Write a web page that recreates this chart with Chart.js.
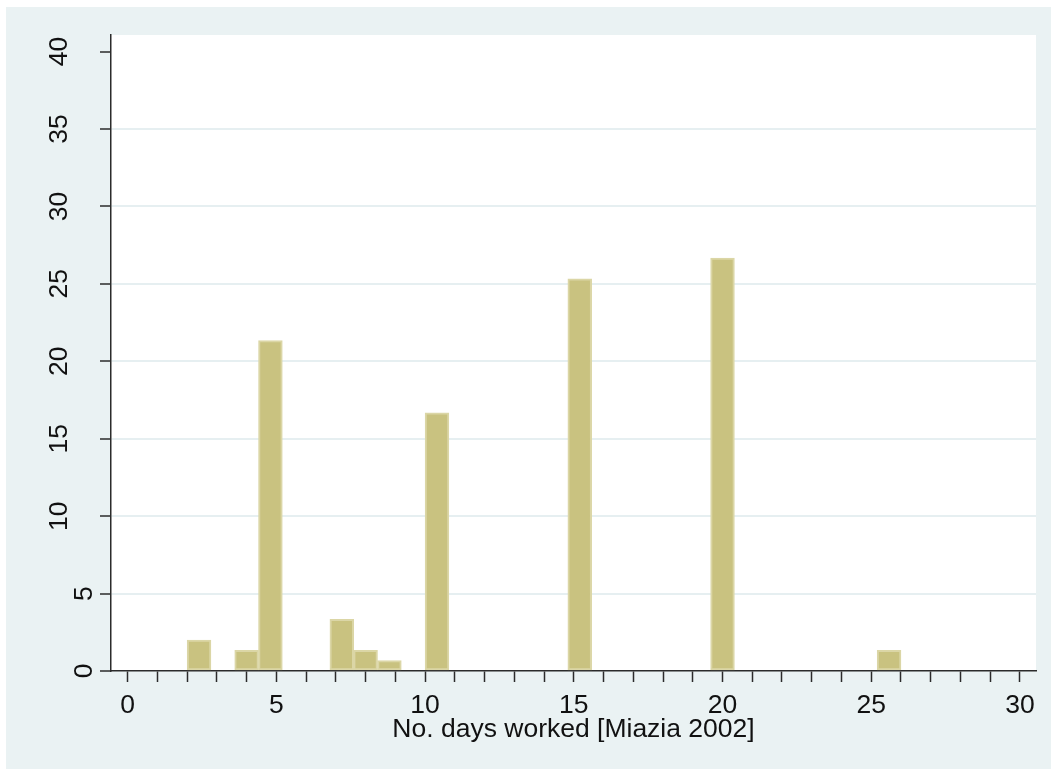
<!DOCTYPE html>
<html>
<head>
<meta charset="utf-8">
<title>No. days worked</title>
<script src="https://cdn.jsdelivr.net/npm/chart.js@4/dist/chart.umd.min.js"></script>
<style>
  html, body { margin: 0; padding: 0; background: #EAF2F3; overflow: hidden; }
  #wrap { width: 1051px; height: 769px; position: relative; }
  canvas { display: block; }
</style>
</head>
<body>
<div id="wrap"><canvas id="chart" width="1051" height="769"></canvas></div>
<script>
// Histogram bins (0.8 days wide): lower edge, upper edge, share of respondents (%)
const binStart = [2.0, 3.6, 4.4, 6.8, 7.6, 8.4, 10.0, 14.8, 19.6, 25.2];
const binEnd   = [2.8, 4.4, 5.2, 7.6, 8.4, 9.2, 10.8, 15.6, 20.4, 26.0];
const percent  = [2.00, 1.33, 21.33, 3.33, 1.33, 0.67, 16.67, 25.33, 26.67, 1.33];

// Axis labelling
const xTickLabels = [0, 5, 10, 15, 20, 25, 30];
const yTickLabels = [0, 5, 10, 15, 20, 25, 30, 35, 40];
const xTitle = 'No. days worked [Miazia 2002]';

const FONT = '"Liberation Sans", Arial, Helvetica, sans-serif';
const PANEL_BG = '#EAF2F3';
const TEXT = '#111111';
const AXIS = '#2b2b2b';

const points = binStart.map((lo, i) => ({ x: (lo + binEnd[i]) / 2, y: percent[i] }));

// White page margin, light graph panel, white plot region
const panelPlugin = {
  id: 'panel',
  beforeDraw(chart) {
    const { ctx, chartArea: a } = chart;
    ctx.save();
    ctx.fillStyle = '#ffffff';
    ctx.fillRect(0, 0, chart.width, chart.height);
    ctx.fillStyle = PANEL_BG;
    ctx.fillRect(6, 7, chart.width, chart.height);
    ctx.fillStyle = '#ffffff';
    ctx.fillRect(a.left, a.top, a.right - a.left, a.bottom - a.top);
    ctx.restore();
  }
};

// Tick labels and axis title, placed with the chart's own scales
const labelPlugin = {
  id: 'labels',
  afterDraw(chart) {
    const { ctx, chartArea: a } = chart;
    const xs = chart.scales.x, ys = chart.scales.y;
    ctx.save();
    ctx.fillStyle = TEXT;
    ctx.font = '26.5px ' + FONT;
    ctx.textBaseline = 'alphabetic';
    ctx.textAlign = 'center';
    xTickLabels.forEach(v => {
      ctx.fillText(String(v), xs.getPixelForValue(v), 712.5);
    });
    yTickLabels.forEach(v => {
      const s = String(v);
      const bx = s.length > 1 ? 66.5 : 91.5;
      ctx.save();
      ctx.translate(bx, ys.getPixelForValue(v));
      ctx.rotate(-Math.PI / 2);
      ctx.fillText(s, 0, 0);
      ctx.restore();
    });
    ctx.fillText(xTitle, (a.left + a.right) / 2, 737);
    ctx.restore();
  }
};

new Chart(document.getElementById('chart'), {
  type: 'bar',
  data: {
    datasets: [{
      data: points,
      backgroundColor: 'rgb(201,194,128)',
      borderColor: 'rgb(219,214,166)',
      borderWidth: 2,
      borderSkipped: false,
      barPercentage: 1.0,
      categoryPercentage: 1.0
    }]
  },
  plugins: [panelPlugin, labelPlugin],
  options: {
    responsive: false,
    animation: false,
    devicePixelRatio: 1,
    layout: { padding: { left: 0, right: 15, top: 35, bottom: 0 } },
    plugins: { legend: { display: false }, tooltip: { enabled: false }, title: { display: false } },
    scales: {
      x: {
        type: 'linear',
        min: -0.56,
        max: 30.54,
        offset: false,
        z: 1,
        afterFit(s) { s.height = 98; },
        ticks: { display: false, stepSize: 1, includeBounds: false, autoSkip: false },
        grid: {
          offset: false,
          drawOnChartArea: false,
          drawTicks: true,
          tickLength: 11,
          tickColor: AXIS,
          tickWidth: 1.5
        },
        border: { display: true, color: AXIS, width: 1.5 }
      },
      y: {
        type: 'linear',
        min: 0,
        max: 41.07,
        afterFit(s) { s.width = 111; },
        ticks: { display: false, stepSize: 5, includeBounds: false },
        grid: {
          drawOnChartArea: true,
          drawTicks: true,
          tickLength: 11,
          lineWidth: 2,
          color: c => (c.tick && (c.tick.value === 0 || c.tick.value === 40)) ? 'rgba(0,0,0,0)' : '#E6EFF1',
          tickColor: AXIS,
          tickWidth: 1.5
        },
        border: { display: true, color: AXIS, width: 1.5 }
      }
    }
  }
});
</script>
</body>
</html>
